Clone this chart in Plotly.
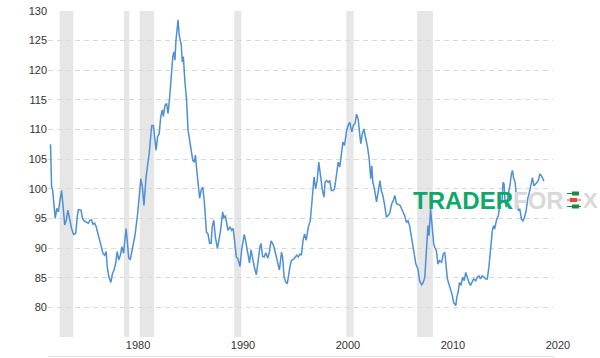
import plotly.graph_objects as go

# Decimal years and index values
years = [
    1973.0, 1973.1, 1973.2, 1973.45, 1973.6, 1973.75, 1973.9, 1974.05, 1974.2, 1974.35,
    1974.5, 1974.65, 1974.85, 1975.0, 1975.2, 1975.4, 1975.55, 1975.65, 1975.9, 1976.05,
    1976.2, 1976.45, 1976.6, 1976.75, 1976.9, 1977.05, 1977.2, 1977.35, 1977.55, 1977.7,
    1977.85, 1978.0, 1978.15, 1978.3, 1978.4, 1978.55, 1978.75, 1978.9, 1979.05, 1979.2,
    1979.35, 1979.5, 1979.65, 1979.8, 1979.95, 1980.2, 1980.35, 1980.45, 1980.6, 1980.75,
    1980.9, 1981.05, 1981.3, 1981.5, 1981.6, 1981.75, 1981.9, 1982.1, 1982.25, 1982.4,
    1982.55, 1982.65, 1982.8, 1982.95, 1983.05, 1983.2, 1983.35, 1983.5, 1983.65, 1983.75,
    1983.9, 1984.05, 1984.2, 1984.35, 1984.5, 1984.65, 1984.75, 1984.85, 1984.95, 1985.15,
    1985.25, 1985.35, 1985.45, 1985.55, 1985.65, 1985.8, 1985.95, 1986.1, 1986.3, 1986.4,
    1986.55, 1986.7, 1986.8, 1986.9, 1987.05, 1987.2, 1987.35, 1987.5, 1987.65, 1987.85,
    1988.0, 1988.15, 1988.3, 1988.4, 1988.55, 1988.7, 1988.9, 1989.05, 1989.2, 1989.4,
    1989.5, 1989.65, 1989.75, 1989.9, 1990.1, 1990.25, 1990.4, 1990.55, 1990.7, 1990.85,
    1990.95, 1991.05, 1991.2, 1991.45, 1991.6, 1991.75, 1991.95, 1992.1, 1992.25, 1992.4,
    1992.6, 1992.8, 1992.95, 1993.05, 1993.2, 1993.35, 1993.5, 1993.7, 1993.85, 1994.0,
    1994.15, 1994.3, 1994.45, 1994.6, 1994.8, 1995.0, 1995.1, 1995.25, 1995.4, 1995.55,
    1995.7, 1995.8, 1995.95, 1996.2, 1996.45, 1996.6, 1996.75, 1996.9, 1997.05, 1997.2,
    1997.35, 1997.55, 1997.75, 1997.9, 1998.1, 1998.25, 1998.4, 1998.55, 1998.7, 1998.9,
    1999.05, 1999.15, 1999.3, 1999.45, 1999.6, 1999.75, 1999.9, 2000.05, 2000.25, 2000.4,
    2000.55, 2000.7, 2000.85, 2001.0, 2001.2, 2001.35, 2001.5, 2001.7, 2001.85, 2002.0,
    2002.15, 2002.3, 2002.45, 2002.55, 2002.7, 2002.85, 2003.0, 2003.2, 2003.35, 2003.5,
    2003.6, 2003.7, 2003.85, 2004.05, 2004.2, 2004.38, 2004.5, 2004.65, 2004.8, 2005.0,
    2005.15, 2005.3, 2005.5, 2005.65, 2005.8, 2005.95, 2006.1, 2006.3, 2006.45, 2006.6,
    2006.75, 2006.9, 2007.05, 2007.2, 2007.35, 2007.5, 2007.65, 2007.8, 2008.0, 2008.15,
    2008.35, 2008.5, 2008.65, 2008.8, 2008.9, 2008.95, 2009.05, 2009.2, 2009.3, 2009.4,
    2009.5, 2009.6, 2009.75, 2009.9, 2010.05, 2010.25, 2010.4, 2010.55, 2010.65, 2010.8,
    2010.95, 2011.1, 2011.25, 2011.4, 2011.6, 2011.7, 2011.85, 2011.95, 2012.1, 2012.25,
    2012.4, 2012.55, 2012.7, 2012.85, 2013.0, 2013.15, 2013.3, 2013.5, 2013.65, 2013.8,
    2013.95, 2014.1, 2014.3, 2014.45, 2014.6, 2014.75, 2014.9, 2015.08, 2015.2, 2015.3,
    2015.5, 2015.65, 2015.8, 2016.0, 2016.1, 2016.2, 2016.3, 2016.4, 2016.5, 2016.6,
    2016.75, 2016.9, 2017.0, 2017.1, 2017.25, 2017.35, 2017.55, 2017.7, 2017.85, 2018.0,
    2018.15, 2018.3, 2018.45, 2018.65, 2018.8, 2018.9, 2019.05, 2019.2, 2019.35, 2019.5,
    2019.6, 2019.75, 2019.9, 2020.0,
]
index_values = [
    107.5, 100.5, 99.8, 95.0, 96.7, 96.1, 98.1, 99.7, 97.0, 93.9,
    94.7, 96.4, 94.7, 93.3, 92.3, 92.5, 95.3, 96.5, 96.4, 95.0,
    94.6, 94.4, 94.2, 94.7, 94.8, 94.0, 94.2, 93.6, 92.2, 91.3,
    90.0, 89.1, 88.8, 89.4, 86.9, 85.2, 84.2, 85.7, 86.3, 87.4,
    89.4, 88.0, 88.8, 90.2, 89.1, 93.3, 90.4, 88.3, 88.1, 89.4,
    90.7, 92.2, 95.8, 99.8, 101.7, 100.3, 97.2, 102.0, 103.7, 106.0,
    109.0, 110.7, 110.7, 107.6, 106.5, 108.8, 109.3, 112.2, 113.3, 112.2,
    114.1, 114.4, 112.7, 115.5, 119.5, 122.3, 123.1, 121.7, 125.1, 128.5,
    126.0, 125.1, 124.3, 121.4, 122.3, 118.1, 115.2, 109.9, 107.6, 107.1,
    104.8, 104.5, 105.7, 103.7, 101.5, 98.4, 99.8, 100.3, 97.8, 92.7,
    92.4, 90.8, 90.8, 93.6, 94.7, 91.9, 89.9, 91.3, 93.0, 96.1,
    95.0, 95.5, 94.7, 93.0, 93.6, 93.0, 93.3, 91.3, 88.5, 88.2,
    87.4, 86.9, 89.6, 92.3, 91.1, 89.2, 87.5, 89.7, 88.0, 86.9,
    85.5, 88.5, 90.2, 90.8, 88.6, 88.5, 89.2, 88.3, 89.4, 91.2,
    90.8, 90.1, 89.0, 87.5, 86.3, 89.3, 88.5, 85.1, 84.3, 84.0,
    86.2, 86.8, 87.9, 88.2, 88.8, 88.5, 89.0, 88.8, 91.3, 92.4,
    91.3, 93.5, 94.7, 98.3, 102.0, 100.0, 101.4, 104.5, 102.2, 99.7,
    98.6, 101.1, 101.4, 101.1, 101.4, 99.7, 99.7, 100.0, 102.5, 104.5,
    103.7, 105.6, 107.9, 107.3, 109.8, 110.7, 111.2, 109.6, 110.7, 111.0,
    112.6, 111.8, 109.3, 107.6, 109.3, 110.1, 108.7, 107.0, 105.1, 101.7,
    103.9, 101.1, 100.0, 97.8, 99.4, 101.4, 99.7, 98.9, 97.5, 95.2,
    95.5, 95.8, 97.5, 98.0, 98.9, 97.5, 97.4, 97.2, 96.6, 96.0,
    95.4, 94.3, 94.6, 93.8, 92.1, 91.0, 89.0, 87.3, 86.5, 84.5,
    83.8, 84.2, 85.1, 90.1, 92.9, 93.8, 92.1, 96.6, 94.6, 92.6,
    90.7, 90.1, 89.6, 87.3, 87.9, 87.6, 89.0, 89.3, 87.3, 84.8,
    83.9, 83.1, 82.2, 80.8, 80.3, 81.7, 82.8, 84.2, 83.7, 85.1,
    84.5, 85.9, 84.8, 84.2, 83.7, 84.2, 84.8, 84.5, 85.1, 85.3,
    84.8, 85.3, 85.1, 84.8, 84.8, 86.7, 89.6, 92.9, 93.8, 93.2,
    94.9, 95.4, 97.4, 97.7, 101.1, 100.8, 97.7, 96.9, 98.0, 99.4,
    100.5, 102.5, 103.1, 101.9, 101.1, 99.1, 96.3, 96.6, 94.9, 94.6,
    95.2, 96.3, 98.3, 99.7, 100.8, 101.9, 100.5, 100.8, 101.1, 101.6,
    102.5, 102.2, 101.6, 101.3,
]

# US recessions (decimal years)
recession_starts = [1973.87, 1980.0, 1981.5, 1990.5, 2001.17, 2007.92]
recession_ends = [1975.17, 1980.5, 1982.87, 1991.17, 2001.87, 2009.42]

# Axis ticks
x_tickvals = [1980, 1990, 2000, 2010, 2020]
x_ticktext = ["1980", "1990", "2000", "2010", "2020"]
y_tickvals = [75, 80, 85, 90, 95, 100, 105, 110, 115, 120, 125, 130]
y_ticktext = ["", "80", "85", "90", "95", "100", "105", "110", "115", "120", "125", "130"]

X_RANGE = [1972.76, 2020.86]
Y_RANGE = [75, 130]

W, H = 600, 358
PLOT_L, PLOT_R, PLOT_T, PLOT_B = 48, 553, 11, 337
ML, MR, MT, MB = PLOT_L, W - PLOT_R, PLOT_T, H - PLOT_B
PW, PH = PLOT_R - PLOT_L, PLOT_B - PLOT_T


def px_x(px):
    return (px - PLOT_L) / PW


def px_y(py):
    return (PLOT_B - py) / PH


fig = go.Figure()
fig.add_trace(go.Scatter(
    x=years, y=index_values, mode="lines",
    line=dict(color="#4f8fd6", width=1.5),
    hoverinfo="x+y", showlegend=False,
))

shapes = []
for s, e in zip(recession_starts, recession_ends):
    shapes.append(dict(type="rect", xref="x", yref="paper", x0=s, x1=e, y0=0, y1=1,
                       fillcolor="#e6e6e6", line=dict(width=0), layer="below"))

# bottom light rule
shapes.append(dict(type="line", xref="paper", yref="paper", x0=0, x1=1.002,
                   y0=px_y(356.5), y1=px_y(356.5), line=dict(color="#e0e0e0", width=1)))

# candlestick glyph in watermark
candles = [
    (193.5, 572, 579, 567, 579, "#1a8a3c"),
    (200.0, 570, 577, 567, 581, "#e8453c"),
    (206.5, 572, 579, 567, 581, "#1a8a3c"),
]
for cy, bx0, bx1, wx0, wx1, col in candles:
    shapes.append(dict(type="line", xref="paper", yref="paper",
                       x0=px_x(wx0), x1=px_x(wx1), y0=px_y(cy), y1=px_y(cy),
                       line=dict(color=col, width=1)))
    shapes.append(dict(type="rect", xref="paper", yref="paper",
                       x0=px_x(bx0), x1=px_x(bx1), y0=px_y(cy - 2), y1=px_y(cy + 2),
                       fillcolor=col, line=dict(width=0)))

annotations = [
    dict(xref="paper", yref="paper", x=px_x(411), y=px_y(200), xanchor="left", yanchor="middle",
         showarrow=False,
         text="<b><span style='color:#10a86a'>TRADER</span><span style='color:#d8d8d8'>FOR</span></b>",
         font=dict(family="Liberation Sans, Arial, sans-serif", size=24)),
    dict(xref="paper", yref="paper", x=px_x(581), y=px_y(200), xanchor="left", yanchor="middle",
         showarrow=False, text="<b>X</b>",
         font=dict(family="Liberation Sans, Arial, sans-serif", size=22, color="#d8d8d8")),
]

fig.update_layout(
    width=W, height=H,
    margin=dict(l=ML, r=MR, t=MT, b=MB, pad=0, autoexpand=False),
    paper_bgcolor="white", plot_bgcolor="white",
    font=dict(family="Liberation Sans, Arial, sans-serif", size=11, color="#333333"),
    shapes=shapes, annotations=annotations,
    xaxis=dict(range=X_RANGE, tickvals=x_tickvals, ticktext=x_ticktext,
               showgrid=False, zeroline=False, showline=False, ticks="",
               ticklabelshift=14, fixedrange=True, automargin=False),
    yaxis=dict(range=Y_RANGE, tickvals=y_tickvals, ticktext=y_ticktext,
               showgrid=True, gridcolor="#d9d9d9", gridwidth=1, griddash="5px,4px",
               zeroline=False, showline=False, ticks="", fixedrange=True, automargin=False),
)

# remove the browser's default 8px body margin so the figure sits at the window origin
fig.write_html(
    "out.html",
    config={"displayModeBar": False},
    post_script="document.body.style.margin='0';document.body.style.overflow='hidden';",
)
